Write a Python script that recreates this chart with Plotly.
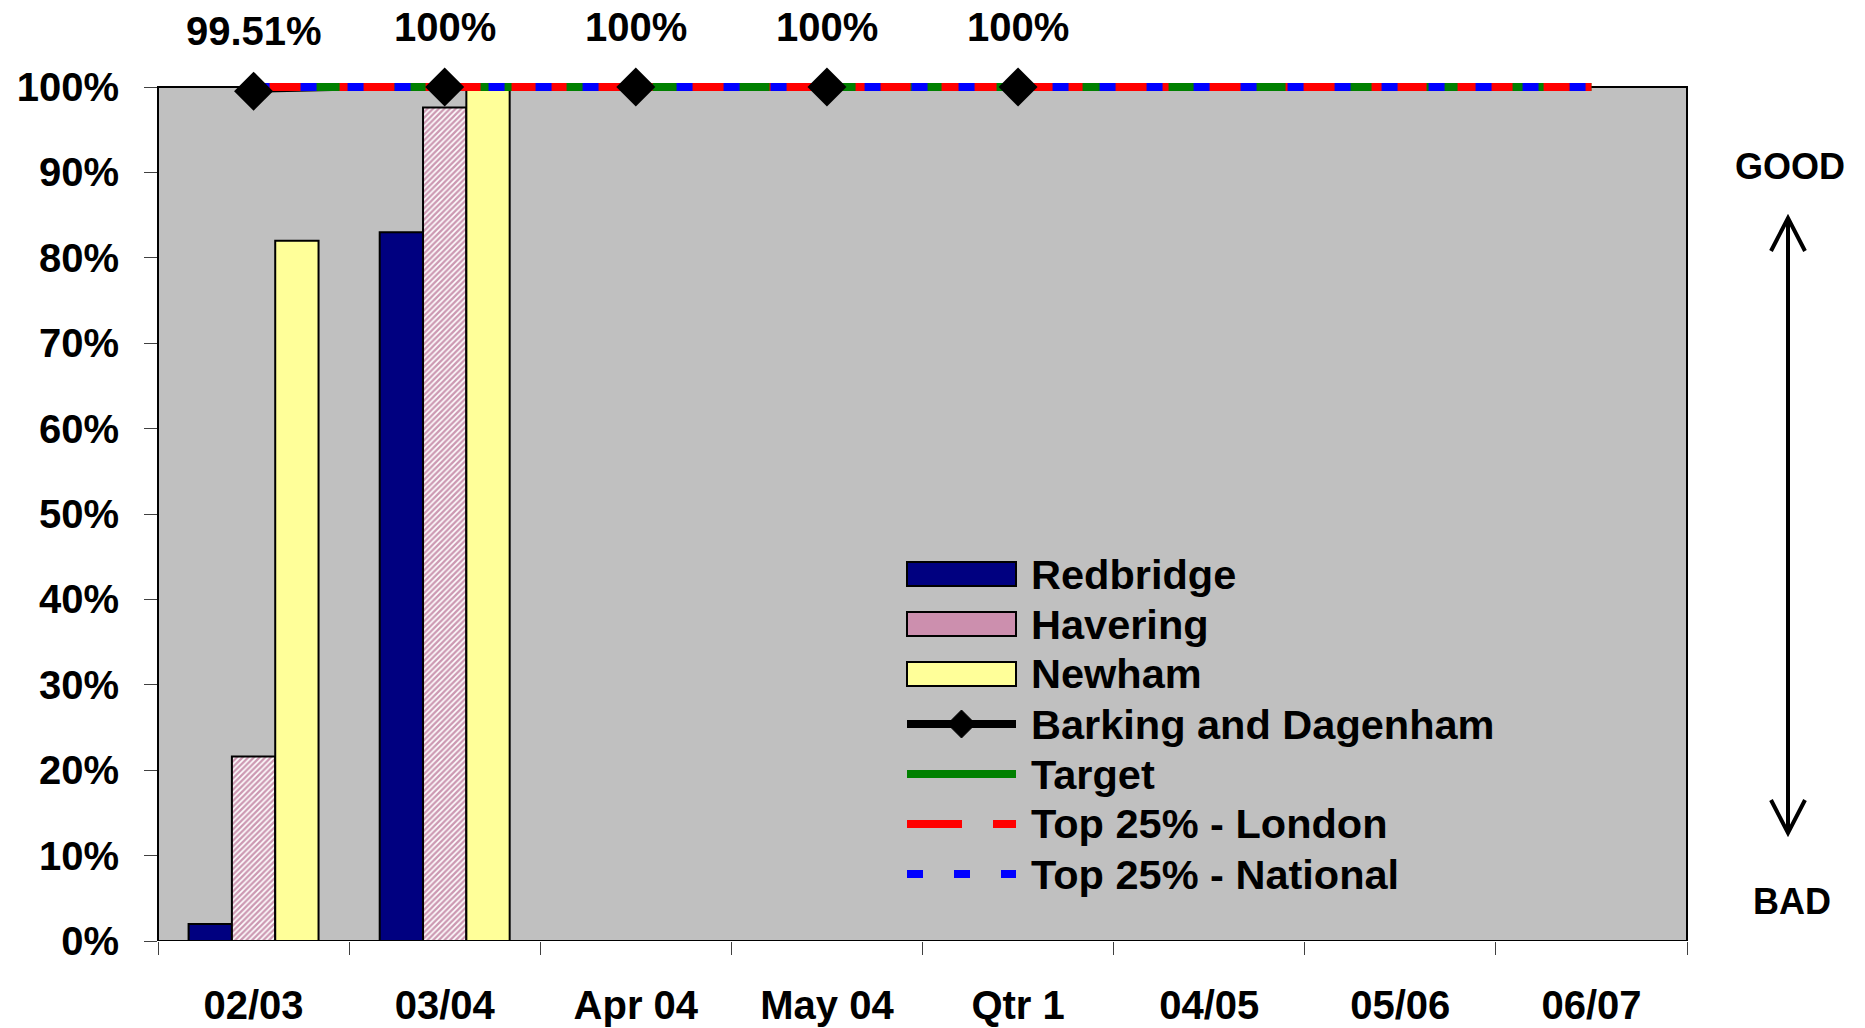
import plotly.graph_objects as go

# ---- data -------------------------------------------------------------
categories = ["02/03", "03/04", "Apr 04", "May 04", "Qtr 1", "04/05", "05/06", "06/07"]
series_names = ["Redbridge", "Havering", "Newham", "Barking and Dagenham",
                "Target", "Top 25% - London", "Top 25% - National"]

redbridge = [0.02, 0.83]
havering = [0.216, 0.976]
newham = [0.82, 1.00]
barking_dagenham = [0.9951, 1.00, 1.00, 1.00, 1.00]
target = [1.00, 1.00, 1.00, 1.00, 1.00, 1.00, 1.00, 1.00]
top25_london = [1.00, 1.00, 1.00, 1.00, 1.00, 1.00, 1.00, 1.00]
top25_national = [1.00, 1.00, 1.00, 1.00, 1.00, 1.00, 1.00, 1.00]
y_ticks = [0.0, 0.1, 0.2, 0.3, 0.4, 0.5, 0.6, 0.7, 0.8, 0.9, 1.0]

# ---- page geometry (pixels) --------------------------------------------
W, H = 1865, 1028
PLOT_L, PLOT_R = 158, 1687
PLOT_B = 941
PLOT_T = 67          # drawing area top, leaves room for the thick 100% lines
Y100 = 87            # pixel row of the 100% gridline / frame top
Y_TOP = (PLOT_B - PLOT_T) / (PLOT_B - Y100)

FONT = "Liberation Sans, Arial, sans-serif"
NAVY, PINK_FG, YELLOW = "#000080", "#993366", "#FFFF99"
GREEN, RED, BLUE = "#008000", "#FF0000", "#0000FF"


def px_x(x):
    return (x - PLOT_L) / (PLOT_R - PLOT_L)


def px_y(y):
    return (PLOT_B - y) / (PLOT_B - PLOT_T)


fig = go.Figure()

bar_line = dict(color="black", width=2)
fig.add_trace(go.Bar(x=categories[:len(redbridge)], y=redbridge, name=series_names[0],
                     marker=dict(color=NAVY, line=bar_line), showlegend=False))
fig.add_trace(go.Bar(x=categories[:len(havering)], y=havering, name=series_names[1],
                     marker=dict(color="white", line=bar_line,
                                 pattern=dict(shape="/", fgcolor=PINK_FG, bgcolor="white",
                                              size=4, solidity=0.6)),
                     showlegend=False))
fig.add_trace(go.Bar(x=categories[:len(newham)], y=newham, name=series_names[2],
                     marker=dict(color=YELLOW, line=bar_line), showlegend=False))

# Barking and Dagenham line (under the comparison lines), markers drawn last
fig.add_trace(go.Scatter(x=categories[:len(barking_dagenham)], y=barking_dagenham,
                         mode="lines", line=dict(color="black", width=3),
                         name=series_names[3], showlegend=False, cliponaxis=False))
fig.add_trace(go.Scatter(x=categories, y=target, mode="lines",
                         line=dict(color=GREEN, width=8), name=series_names[4],
                         showlegend=False, cliponaxis=False))
fig.add_trace(go.Scatter(x=categories, y=top25_london, mode="lines",
                         line=dict(color=RED, width=8, dash="55px,31px"),
                         name=series_names[5], showlegend=False, cliponaxis=False))
fig.add_trace(go.Scatter(x=categories, y=top25_national, mode="lines",
                         line=dict(color=BLUE, width=8, dash="16px,31px"),
                         name=series_names[6], showlegend=False, cliponaxis=False))
fig.add_trace(go.Scatter(x=categories[:len(barking_dagenham)], y=barking_dagenham,
                         mode="markers", marker=dict(symbol="diamond", size=30, color="black"),
                         name=series_names[3], showlegend=False, cliponaxis=False))


def pct_label(v):
    return f"{v * 100:.2f}".rstrip("0").rstrip(".") + "%"


annotations = []
for c, v in zip(categories, barking_dagenham):
    annotations.append(dict(x=c, y=v, xref="x", yref="y", text=pct_label(v),
                            showarrow=False, yshift=60, yanchor="middle",
                            font=dict(family=FONT, size=40, color="black", weight="bold")))

# plot area background and frame
shapes = [dict(type="rect", xref="x domain", yref="y", x0=0, x1=1, y0=0, y1=1,
               fillcolor="#C0C0C0", line=dict(color="black", width=2), layer="below")]

# ---- hand-built legend ---------------------------------------------------
SYM_X0, SYM_X1, TEXT_X = 907, 1016, 1029
rows = [574, 624, 674, 724, 774, 824, 874]
rect_fills = [NAVY, "#CC8FAE", YELLOW]
for i in range(3):
    r = rows[i]
    shapes.append(dict(type="rect", xref="paper", yref="paper",
                       x0=px_x(SYM_X0), x1=px_x(SYM_X1), y0=px_y(r + 12), y1=px_y(r - 12),
                       fillcolor=rect_fills[i], line=dict(color="black", width=2)))

line_styles = [("black", "solid"), (GREEN, "solid"), (RED, "55px,31px"), (BLUE, "16px,31px")]
for j, (col, dash) in enumerate(line_styles):
    r = rows[3 + j]
    shapes.append(dict(type="line", xref="paper", yref="paper",
                       x0=px_x(SYM_X0), x1=px_x(SYM_X1), y0=px_y(r), y1=px_y(r),
                       line=dict(color=col, width=8, dash=dash)))

# diamond key for Barking and Dagenham
cx, cy, d = (SYM_X0 + SYM_X1) / 2, rows[3], 14
shapes.append(dict(type="path", xref="paper", yref="paper",
                   path=(f"M{px_x(cx - d)},{px_y(cy)} L{px_x(cx)},{px_y(cy - d)} "
                         f"L{px_x(cx + d)},{px_y(cy)} L{px_x(cx)},{px_y(cy + d)} Z"),
                   fillcolor="black", line=dict(color="black", width=1)))

for name, r in zip(series_names, rows):
    annotations.append(dict(x=px_x(TEXT_X), y=px_y(r), xref="paper", yref="paper",
                            text=name, showarrow=False, xanchor="left", yanchor="middle",
                            font=dict(family=FONT, size=41.5, color="black", weight="bold")))

# ---- GOOD / BAD double arrow ------------------------------------------------
AX, A_TOP, A_BOT, WING_X, WING_Y = 1788, 218, 833, 17, 33
shapes.append(dict(type="line", xref="paper", yref="paper",
                   x0=px_x(AX), x1=px_x(AX), y0=px_y(A_TOP + 2), y1=px_y(A_BOT - 2),
                   line=dict(color="black", width=4)))
shapes.append(dict(type="path", xref="paper", yref="paper",
                   path=(f"M{px_x(AX - WING_X)},{px_y(A_TOP + WING_Y)} L{px_x(AX)},{px_y(A_TOP)} "
                         f"L{px_x(AX + WING_X)},{px_y(A_TOP + WING_Y)}"),
                   line=dict(color="black", width=4)))
shapes.append(dict(type="path", xref="paper", yref="paper",
                   path=(f"M{px_x(AX - WING_X)},{px_y(A_BOT - WING_Y)} L{px_x(AX)},{px_y(A_BOT)} "
                         f"L{px_x(AX + WING_X)},{px_y(A_BOT - WING_Y)}"),
                   line=dict(color="black", width=4)))
annotations.append(dict(x=px_x(1790), y=px_y(166), xref="paper", yref="paper", text="GOOD",
                        showarrow=False, xanchor="center", yanchor="middle",
                        font=dict(family=FONT, size=36, color="black", weight="bold")))
annotations.append(dict(x=px_x(1792), y=px_y(901), xref="paper", yref="paper", text="BAD",
                        showarrow=False, xanchor="center", yanchor="middle",
                        font=dict(family=FONT, size=36, color="black", weight="bold")))

fig.update_layout(
    width=W, height=H,
    margin=dict(l=PLOT_L, r=W - PLOT_R, t=PLOT_T, b=H - PLOT_B, pad=0, autoexpand=False),
    paper_bgcolor="white", plot_bgcolor="white",
    barmode="group", bargap=0.32, bargroupgap=0,
    showlegend=False,
    shapes=shapes, annotations=annotations,
    font=dict(family=FONT, size=40, color="black", weight="bold"),
)
fig.update_xaxes(type="category", categoryorder="array", categoryarray=categories,
                 range=[-0.5, len(categories) - 0.5], tickson="boundaries",
                 ticks="outside", ticklen=13, tickwidth=1, tickcolor="#404040",
                 showline=False, showgrid=False, zeroline=False,
                 ticklabelstandoff=37,
                 tickfont=dict(family=FONT, size=40, color="black", weight="bold"))
fig.update_yaxes(range=[0, Y_TOP], tickvals=y_ticks, tickformat=".0%",
                 ticks="outside", ticklen=13, tickwidth=1, tickcolor="#404040",
                 showline=False, showgrid=False, zeroline=False,
                 ticklabelstandoff=17,
                 tickfont=dict(family=FONT, size=40, color="black", weight="bold"))

fig.write_html("out.html")
